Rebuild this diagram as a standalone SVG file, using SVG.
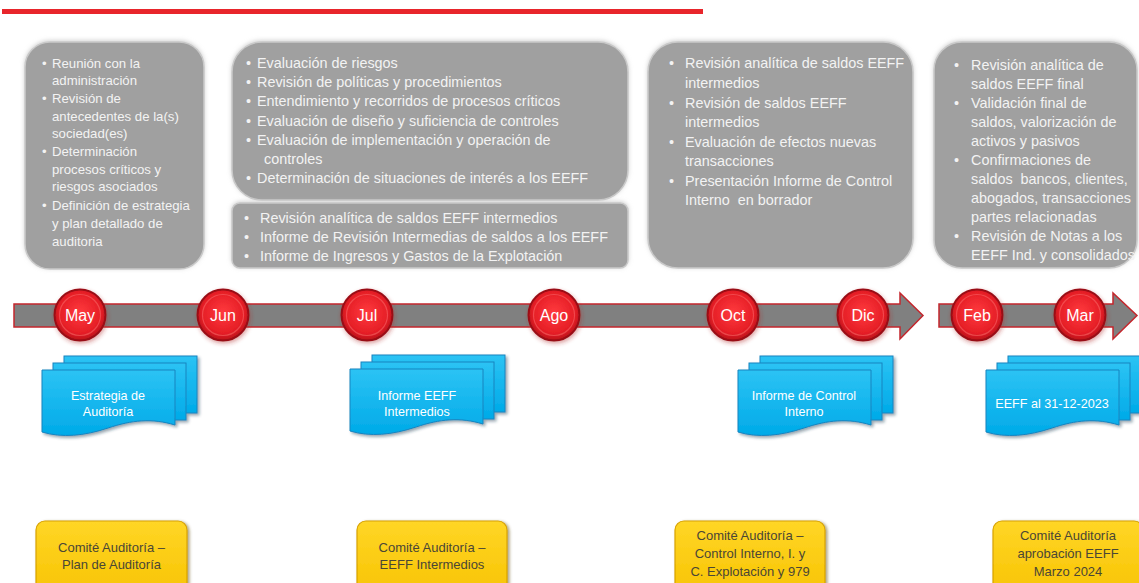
<svg xmlns="http://www.w3.org/2000/svg" xmlns:xlink="http://www.w3.org/1999/xlink" width="1139" height="583" viewBox="0 0 1139 583">
  <defs>
    <style>
      .panel { fill: #a0a0a0; stroke: #c9c9c9; stroke-width: 1.5; filter: url(#panelShadow); }
      .pt { font-family: "Liberation Sans", Arial, sans-serif; font-size: 14.4px; fill: #f3f3f3; }
      .pt1 { font-family: "Liberation Sans", Arial, sans-serif; font-size: 13.2px; fill: #f3f3f3; }
      .bar { fill: #808080; stroke: #c4262c; stroke-width: 1.5; }
      .dot { fill: url(#redBall); stroke: #9a0f16; stroke-width: 2; filter: url(#ballGlow); }
      .dotRing { fill: none; stroke: #ff7a7a; stroke-opacity: 0.45; stroke-width: 1.2; }
      .month { font-family: "Liberation Sans", Arial, sans-serif; font-size: 16px; fill: #ffffff; text-anchor: middle; }
      .sheet { fill: url(#blueSheet); stroke: #1984bf; stroke-width: 1; }
      .docText { font-family: "Liberation Sans", Arial, sans-serif; font-size: 12.6px; fill: #ffffff; text-anchor: middle; }
      .gold { fill: url(#goldFill); stroke: #d8a200; stroke-width: 1.2; filter: url(#goldShadow); }
      .goldText { font-family: "Liberation Sans", Arial, sans-serif; font-size: 13px; fill: #4a4636; text-anchor: middle; }
    </style>
    <filter id="panelShadow" x="-10%" y="-10%" width="120%" height="120%">
      <feGaussianBlur in="SourceAlpha" stdDeviation="2"/>
      <feOffset dx="0" dy="-1" result="b"/>
      <feFlood flood-color="#bdbdbd" flood-opacity="0.7"/>
      <feComposite in2="b" operator="in" result="s"/>
      <feMerge><feMergeNode in="s"/><feMergeNode in="SourceGraphic"/></feMerge>
    </filter>
    <filter id="ballGlow" x="-30%" y="-30%" width="160%" height="160%">
      <feGaussianBlur in="SourceAlpha" stdDeviation="2"/>
      <feOffset dx="1" dy="1.5" result="b"/>
      <feFlood flood-color="#b02a2a" flood-opacity="0.45"/>
      <feComposite in2="b" operator="in" result="s"/>
      <feMerge><feMergeNode in="s"/><feMergeNode in="SourceGraphic"/></feMerge>
    </filter>
    <filter id="docShadow" x="-10%" y="-10%" width="125%" height="130%">
      <feGaussianBlur in="SourceAlpha" stdDeviation="1.5"/>
      <feOffset dx="2" dy="2" result="b"/>
      <feFlood flood-color="#1a3a50" flood-opacity="0.45"/>
      <feComposite in2="b" operator="in" result="s"/>
      <feMerge><feMergeNode in="s"/><feMergeNode in="SourceGraphic"/></feMerge>
    </filter>
    <filter id="goldShadow" x="-10%" y="-10%" width="125%" height="130%">
      <feGaussianBlur in="SourceAlpha" stdDeviation="1.5"/>
      <feOffset dx="2" dy="1" result="b"/>
      <feFlood flood-color="#5a4a10" flood-opacity="0.5"/>
      <feComposite in2="b" operator="in" result="s"/>
      <feMerge><feMergeNode in="s"/><feMergeNode in="SourceGraphic"/></feMerge>
    </filter>
    <radialGradient id="redBall" cx="50%" cy="45%" r="55%">
      <stop offset="0" stop-color="#ff3a3e"/>
      <stop offset="0.75" stop-color="#e51e26"/>
      <stop offset="1" stop-color="#b8121a"/>
    </radialGradient>
    <linearGradient id="blueSheet" x1="0" y1="0" x2="0" y2="1">
      <stop offset="0" stop-color="#2cc3f4"/>
      <stop offset="1" stop-color="#00aae8"/>
    </linearGradient>
    <linearGradient id="goldFill" x1="0" y1="0" x2="0" y2="1">
      <stop offset="0" stop-color="#ffd626"/>
      <stop offset="1" stop-color="#f7c200"/>
    </linearGradient>
    <!-- stacked document: two sheets behind, wavy front sheet -->
    <g id="docStack">
      <rect class="sheet" x="22" y="-14" width="133" height="57"/>
      <rect class="sheet" x="11" y="-7" width="133" height="57"/>
      <path class="sheet" d="M0,0 H133 V55 C110,48 90,50 66,58 C42,66 20,68 0,62 Z"/>
    </g>
  </defs>

  <rect width="1139" height="583" fill="#ffffff"/>

  <!-- header rule -->
  <rect x="2" y="9" width="701" height="5" fill="#e8252b"/>

  <!-- activity panels -->
  <g id="panel-may">
    <rect class="panel" x="25" y="42" width="179" height="227" rx="25"/>
    <text class="pt1">
      <tspan x="42" y="68">•</tspan><tspan x="52" y="68">Reunión con la</tspan>
      <tspan x="52" y="85">administración</tspan>
      <tspan x="42" y="103">•</tspan><tspan x="52" y="103">Revisión de</tspan>
      <tspan x="52" y="121">antecedentes de la(s)</tspan>
      <tspan x="52" y="138">sociedad(es)</tspan>
      <tspan x="42" y="156">•</tspan><tspan x="52" y="156">Determinación</tspan>
      <tspan x="52" y="174">procesos críticos y</tspan>
      <tspan x="52" y="191">riesgos asociados</tspan>
      <tspan x="42" y="210">•</tspan><tspan x="52" y="210">Definición de estrategia</tspan>
      <tspan x="52" y="228">y plan detallado de</tspan>
      <tspan x="52" y="246">auditoria</tspan>
    </text>
  </g>

  <g id="panel-jul">
    <rect class="panel" x="232" y="42" width="396" height="158" rx="30"/>
    <text class="pt">
      <tspan x="246" y="68">•</tspan><tspan x="257" y="68">Evaluación de riesgos</tspan>
      <tspan x="246" y="87">•</tspan><tspan x="257" y="87">Revisión de políticas y procedimientos</tspan>
      <tspan x="246" y="106">•</tspan><tspan x="257" y="106">Entendimiento y recorridos de procesos críticos</tspan>
      <tspan x="246" y="125.5">•</tspan><tspan x="257" y="125.5">Evaluación de diseño y suficiencia de controles</tspan>
      <tspan x="246" y="144.5">•</tspan><tspan x="257" y="144.5">Evaluación de implementación y operación de</tspan>
      <tspan x="264" y="163.5">controles</tspan>
      <tspan x="246" y="182.5">•</tspan><tspan x="257" y="182.5">Determinación de situaciones de interés a los EEFF</tspan>
    </text>
  </g>

  <g id="panel-jul-review">
    <rect class="panel" x="232" y="203" width="396" height="65" rx="8"/>
    <text class="pt">
      <tspan x="244" y="223">•</tspan><tspan x="260" y="223">Revisión analítica de saldos EEFF intermedios</tspan>
      <tspan x="244" y="242">•</tspan><tspan x="260" y="242">Informe de Revisión Intermedias de saldos a los EEFF</tspan>
      <tspan x="244" y="261">•</tspan><tspan x="260" y="261">Informe de Ingresos y Gastos de la Explotación</tspan>
    </text>
  </g>

  <g id="panel-oct">
    <rect class="panel" x="648" y="42" width="265" height="226" rx="30"/>
    <text class="pt">
      <tspan x="669" y="68">•</tspan><tspan x="685" y="68">Revisión analítica de saldos EEFF</tspan>
      <tspan x="685" y="88">intermedios</tspan>
      <tspan x="669" y="108">•</tspan><tspan x="685" y="108">Revisión de saldos EEFF</tspan>
      <tspan x="685" y="127">intermedios</tspan>
      <tspan x="669" y="147">•</tspan><tspan x="685" y="147">Evaluación de efectos nuevas</tspan>
      <tspan x="685" y="166">transacciones</tspan>
      <tspan x="669" y="186">•</tspan><tspan x="685" y="186">Presentación Informe de Control</tspan>
      <tspan x="685" y="205">Interno&#160; en borrador</tspan>
    </text>
  </g>

  <g id="panel-feb">
    <rect class="panel" x="934" y="42" width="203" height="226" rx="28"/>
    <text class="pt">
      <tspan x="954" y="70">•</tspan><tspan x="971" y="70">Revisión analítica de</tspan>
      <tspan x="971" y="89">saldos EEFF final</tspan>
      <tspan x="954" y="108">•</tspan><tspan x="971" y="108">Validación final de</tspan>
      <tspan x="971" y="127">saldos, valorización de</tspan>
      <tspan x="971" y="146">activos y pasivos</tspan>
      <tspan x="954" y="165">•</tspan><tspan x="971" y="165">Confirmaciones de</tspan>
      <tspan x="971" y="184">saldos&#160; bancos, clientes,</tspan>
      <tspan x="971" y="203">abogados, transacciones</tspan>
      <tspan x="971" y="222">partes relacionadas</tspan>
      <tspan x="954" y="241">•</tspan><tspan x="971" y="241">Revisión de Notas a los</tspan>
      <tspan x="971" y="260">EEFF Ind. y consolidados</tspan>
    </text>
  </g>

  <!-- timeline arrows -->
  <g id="timeline">
    <path class="bar" d="M14,304 H900 V293 L923,315.5 L900,339 V327 H14 Z"/>
    <path class="bar" d="M939,304 H1113 V293 L1137,315.5 L1113,339 V327 H939 Z"/>
  </g>

  <!-- month markers -->
  <g id="m-may"><circle class="dot" cx="80" cy="315" r="25.5"/><circle class="dotRing" cx="80" cy="315" r="20.5"/><text class="month" x="80" y="320.5">May</text></g>
  <g id="m-jun"><circle class="dot" cx="223" cy="315" r="25.5"/><circle class="dotRing" cx="223" cy="315" r="20.5"/><text class="month" x="223" y="320.5">Jun</text></g>
  <g id="m-jul"><circle class="dot" cx="367" cy="315" r="25.5"/><circle class="dotRing" cx="367" cy="315" r="20.5"/><text class="month" x="367" y="320.5">Jul</text></g>
  <g id="m-ago"><circle class="dot" cx="554" cy="315" r="25.5"/><circle class="dotRing" cx="554" cy="315" r="20.5"/><text class="month" x="554" y="320.5">Ago</text></g>
  <g id="m-oct"><circle class="dot" cx="733" cy="315" r="25.5"/><circle class="dotRing" cx="733" cy="315" r="20.5"/><text class="month" x="733" y="320.5">Oct</text></g>
  <g id="m-dic"><circle class="dot" cx="863" cy="315" r="25.5"/><circle class="dotRing" cx="863" cy="315" r="20.5"/><text class="month" x="863" y="320.5">Dic</text></g>
  <g id="m-feb"><circle class="dot" cx="977" cy="315" r="25.5"/><circle class="dotRing" cx="977" cy="315" r="20.5"/><text class="month" x="977" y="320.5">Feb</text></g>
  <g id="m-mar"><circle class="dot" cx="1080" cy="315" r="25.5"/><circle class="dotRing" cx="1080" cy="315" r="20.5"/><text class="month" x="1080" y="320.5">Mar</text></g>

  <!-- deliverables -->
  <g id="doc-estrategia">
    <use xlink:href="#docStack" href="#docStack" transform="translate(42,370)" filter="url(#docShadow)"/>
    <text class="docText" x="108" y="399.5">Estrategia de</text>
    <text class="docText" x="108" y="416">Auditoría</text>
  </g>
  <g id="doc-intermedios">
    <use xlink:href="#docStack" href="#docStack" transform="translate(350,369)" filter="url(#docShadow)"/>
    <text class="docText" x="417" y="399.5">Informe EEFF</text>
    <text class="docText" x="417" y="416">Intermedios</text>
  </g>
  <g id="doc-control">
    <use xlink:href="#docStack" href="#docStack" transform="translate(738,370)" filter="url(#docShadow)"/>
    <text class="docText" x="804" y="399.5">Informe de Control</text>
    <text class="docText" x="804" y="416">Interno</text>
  </g>
  <g id="doc-eeff">
    <use xlink:href="#docStack" href="#docStack" transform="translate(986,370)" filter="url(#docShadow)"/>
    <text class="docText" x="1052" y="407.5">EEFF al 31-12-2023</text>
  </g>

  <!-- committee meetings -->
  <g id="comite-plan">
    <rect class="gold" x="36" y="521" width="151" height="80" rx="9"/>
    <text class="goldText" x="111.5" y="551.5">Comité Auditoría –</text>
    <text class="goldText" x="111.5" y="569">Plan de Auditoría</text>
  </g>
  <g id="comite-intermedios">
    <rect class="gold" x="357" y="521" width="150" height="80" rx="9"/>
    <text class="goldText" x="432" y="551.5">Comité Auditoría –</text>
    <text class="goldText" x="432" y="569">EEFF Intermedios</text>
  </g>
  <g id="comite-control">
    <rect class="gold" x="675" y="521" width="150" height="80" rx="9"/>
    <text class="goldText" x="750" y="540">Comité Auditoría –</text>
    <text class="goldText" x="750" y="558">Control Interno, I. y</text>
    <text class="goldText" x="750" y="576">C. Explotación y 979</text>
  </g>
  <g id="comite-aprobacion">
    <rect class="gold" x="993" y="521" width="150" height="80" rx="9"/>
    <text class="goldText" x="1068" y="540">Comité Auditoría</text>
    <text class="goldText" x="1068" y="558">aprobación EEFF</text>
    <text class="goldText" x="1068" y="576">Marzo 2024</text>
  </g>
</svg>
